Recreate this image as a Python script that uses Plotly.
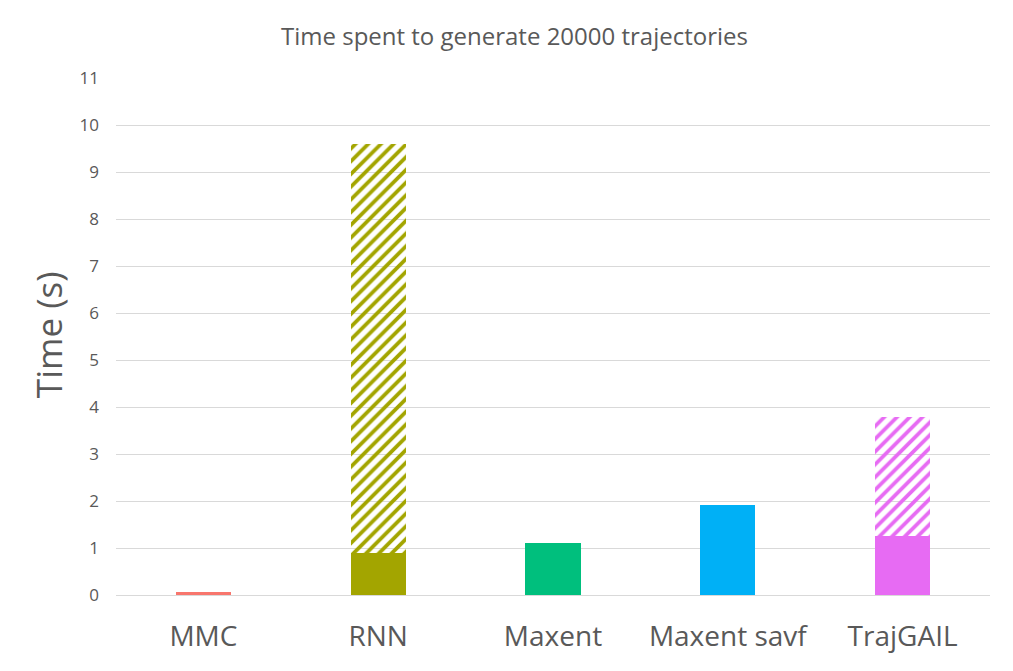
import plotly.graph_objects as go

categories = ["MMC", "RNN", "Maxent", "Maxent savf", "TrajGAIL"]
solid_values = [0.06, 0.89, 1.1, 1.91, 1.25]
hatched_values = [0.0, 8.71, 0.0, 0.0, 2.53]
colors = ["#F8766D", "#A3A500", "#00BF7D", "#00B0F6", "#E76BF3"]
y_ticks = list(range(0, 12))

title_text = "Time spent to generate 20000 trajectories"
y_title = "Time (s)"

font_family = "Open Sans, Liberation Sans, sans-serif"
grey = "#595959"

fig = go.Figure()
fig.add_trace(go.Bar(
    x=categories, y=solid_values,
    marker=dict(color=colors, line=dict(width=0)),
    showlegend=False,
))
fig.add_trace(go.Bar(
    x=categories, y=hatched_values,
    marker=dict(
        color=colors, line=dict(width=0),
        pattern=dict(shape="/", fillmode="replace", bgcolor="white",
                     size=9, solidity=0.42),
    ),
    showlegend=False,
))

fig.update_layout(
    barmode="stack",
    bargap=0.685,
    width=1013, height=671,
    paper_bgcolor="white", plot_bgcolor="white",
    margin=dict(l=108, r=31, t=70, b=84),
    title=dict(text=title_text, x=0.5, xanchor="center", y=0.957, yanchor="middle",
               font=dict(family=font_family, size=24, color=grey)),
    font=dict(family=font_family, color=grey),
    xaxis=dict(
        tickfont=dict(size=28, color=grey),
        showgrid=False, showline=False, ticks="",
        ticklabelstandoff=22,
    ),
    yaxis=dict(
        range=[0, 11], tickvals=y_ticks,
        tickfont=dict(size=17, color=grey),
        showgrid=True, gridcolor="#D9D9D9", gridwidth=1.3,
        zeroline=True, zerolinecolor="#D9D9D9", zerolinewidth=1.3,
        showline=False, ticks="", ticklabelstandoff=16,
    ),
    annotations=[dict(
        text=y_title, textangle=-90, showarrow=False,
        xref="paper", yref="paper", x=-0.077, y=0.504,
        xanchor="center", yanchor="middle",
        font=dict(family=font_family, size=35, color=grey),
    )],
)

fig.write_html("out.html")
